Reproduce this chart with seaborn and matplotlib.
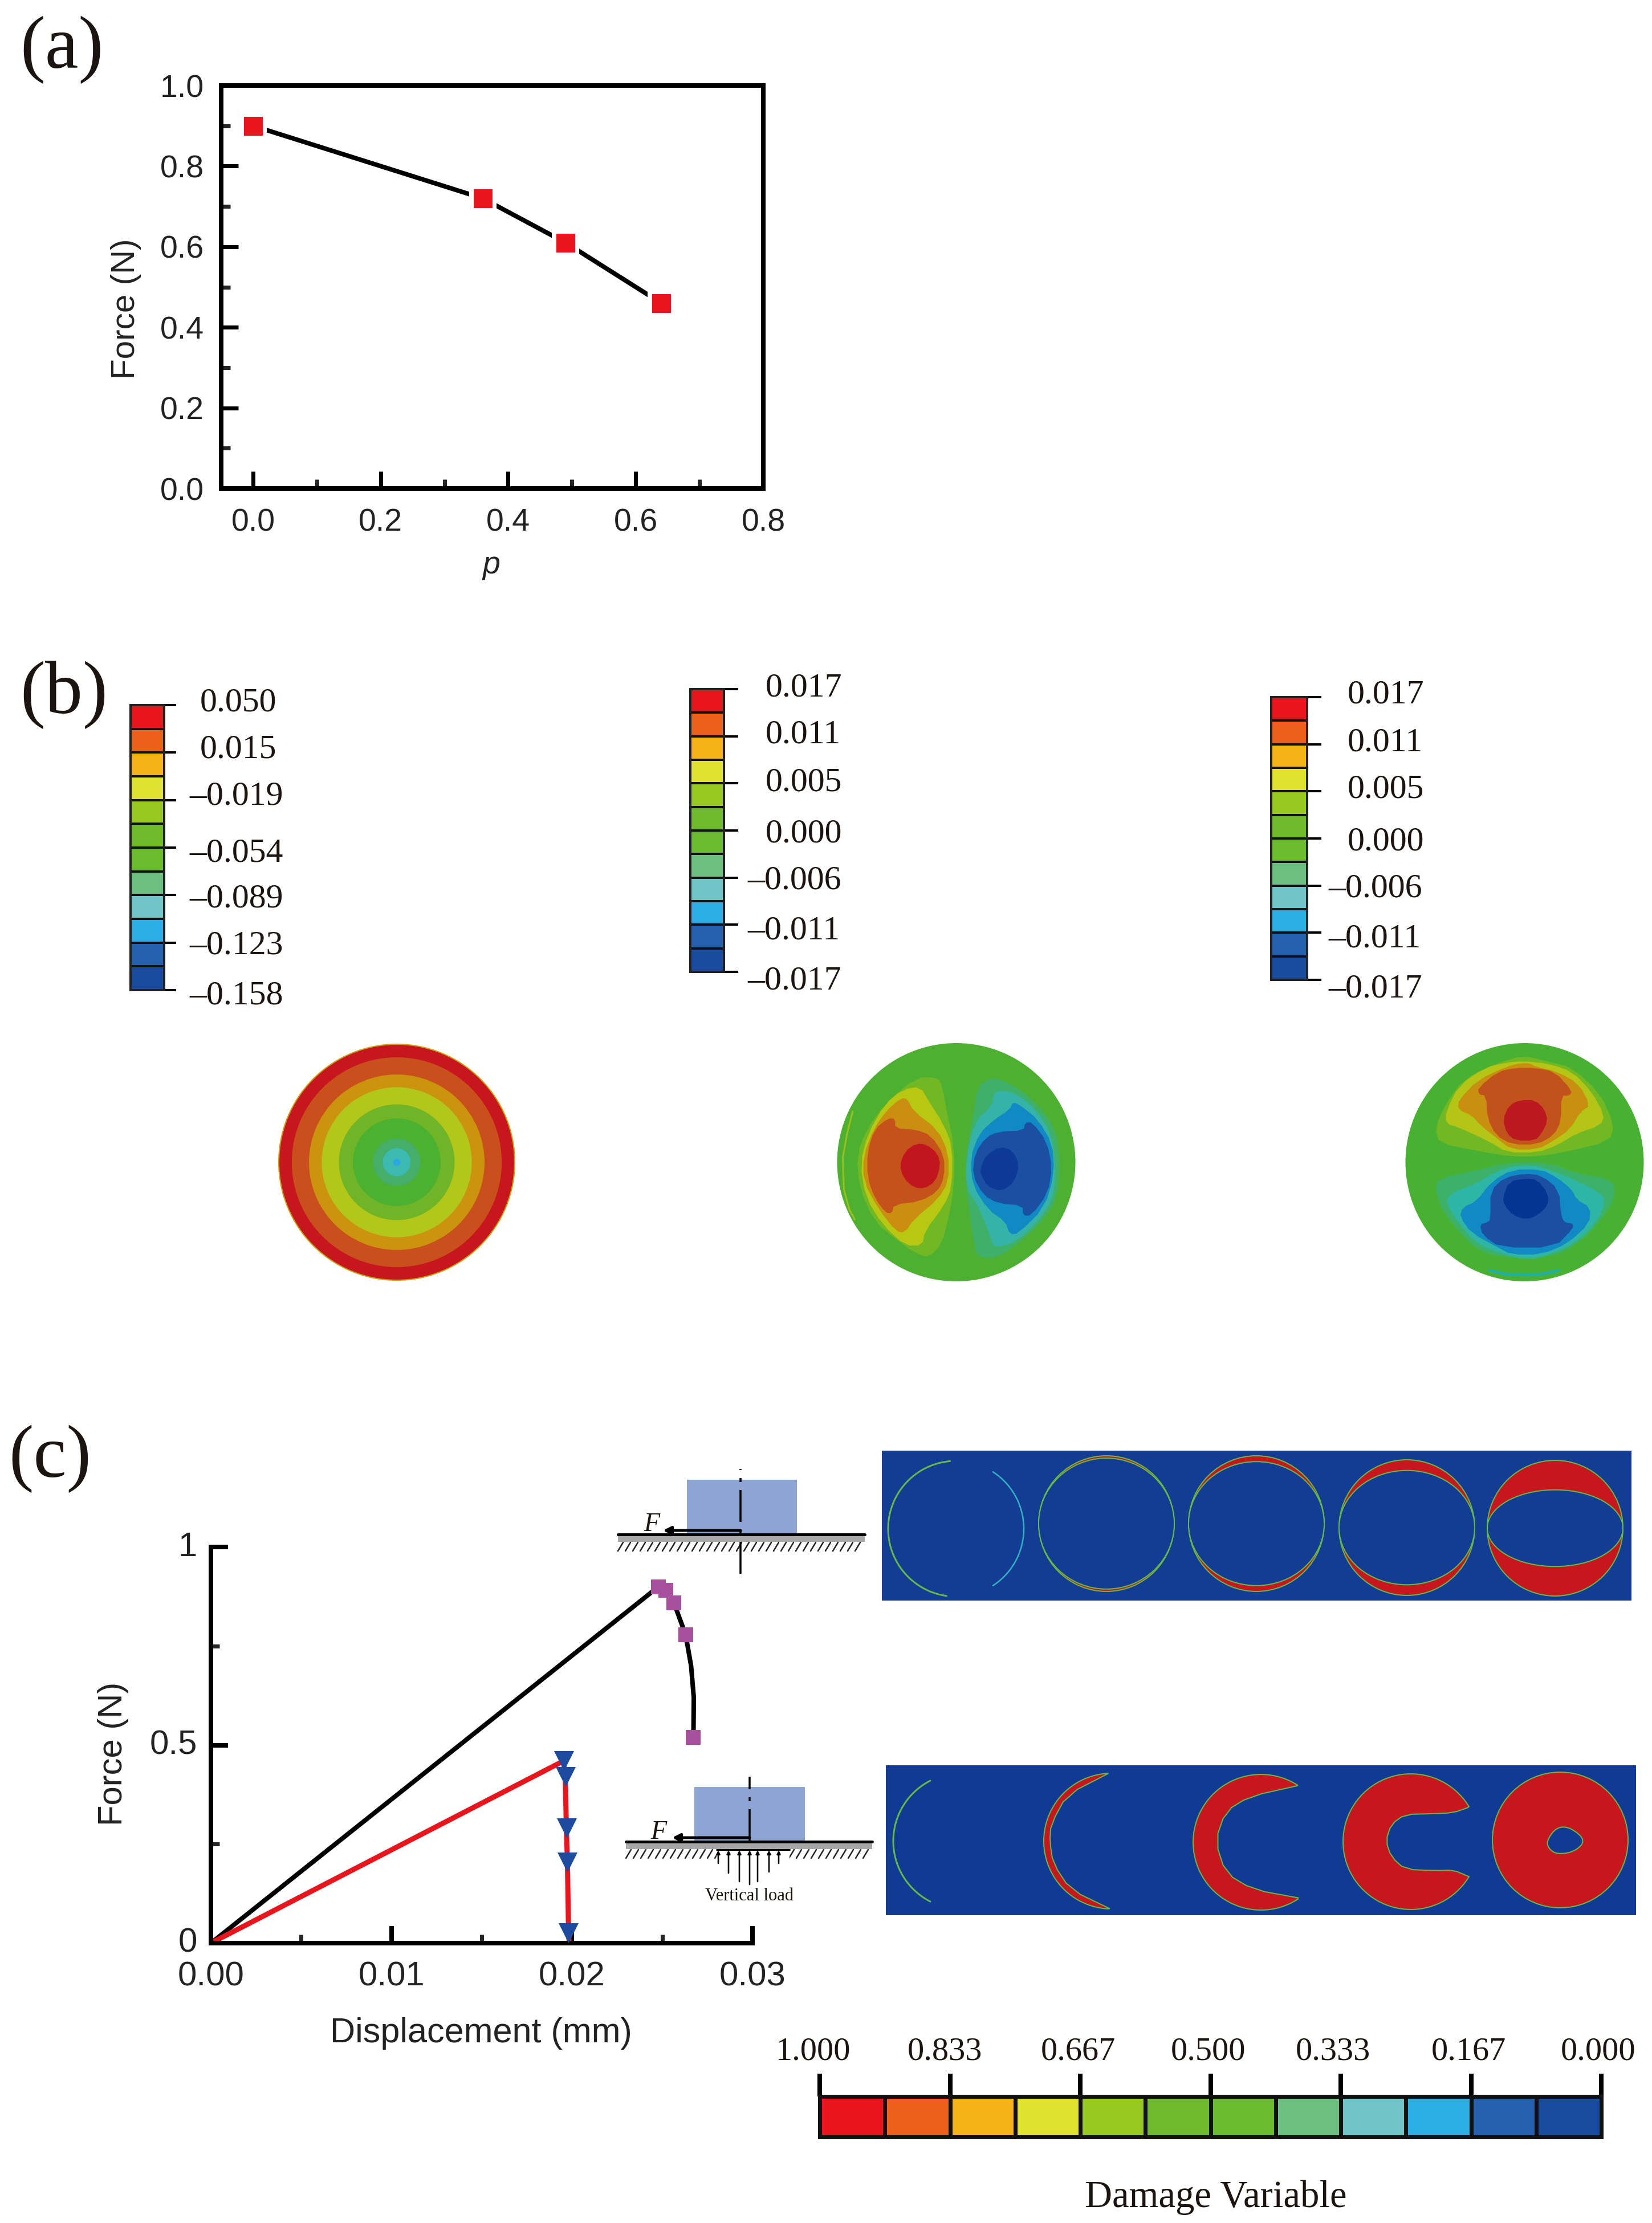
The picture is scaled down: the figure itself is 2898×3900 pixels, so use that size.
import numpy as np
import seaborn as sns
import matplotlib.pyplot as plt
from matplotlib.colors import ListedColormap
from matplotlib.patches import Circle, Ellipse, Polygon, Rectangle
from matplotlib.transforms import ScaledTranslation

W, H = 2898, 3900
PT = 0.72  # one picture pixel in points at dpi 100

# panel (a)
p_values = [0.0, 0.36, 0.49, 0.64]
force_a = [0.90, 0.72, 0.61, 0.46]

# panel (c)
disp_black = [0.0, 0.0248, 0.0252, 0.02565, 0.0263, 0.0266, 0.02675, 0.02673]
force_black = [0.0, 0.90, 0.89, 0.859, 0.778, 0.70, 0.62, 0.52]
disp_black_marks = [0.0248, 0.0252, 0.02565, 0.0263, 0.02673]
force_black_marks = [0.90, 0.89, 0.859, 0.778, 0.52]
disp_red = [0.0, 0.01954, 0.01963, 0.01969, 0.01975, 0.01981, 0.01985]
force_red = [0.0, 0.46, 0.42, 0.29, 0.204, 0.03, 0.0]
disp_red_marks = [0.01954, 0.01963, 0.01969, 0.01975, 0.01981]
force_red_marks = [0.46, 0.42, 0.29, 0.204, 0.026]

# colour scales
scale_colors = ['#E8161C', '#EE5F1A', '#F6B315', '#DFE32F', '#98C91F', '#6FBB2B',
                '#6ABB2E', '#6DBF7F', '#6EC4C6', '#2BAEE4', '#2460AC', '#184A9E']
scale_levels = list(range(12))
labels_b1 = ['0.050', '0.015', '–0.019', '–0.054', '–0.089', '–0.123', '–0.158']
labels_b2 = ['0.017', '0.011', '0.005', '0.000', '–0.006', '–0.011', '–0.017']
labels_damage = ['1.000', '0.833', '0.667', '0.500', '0.333', '0.167', '0.000']

# disc 1: ring radii (fraction of the disc radius) and their colours
ring_radii = [1.0, 0.99, 0.885, 0.74, 0.633, 0.488, 0.37, 0.20, 0.118, 0.03]
ring_colors = ['#C9A010', '#C8161F', '#C9501C', '#CC930F', '#B2C71A', '#70B527',
               '#4CB030', '#45AE68', '#3CB9B0', '#2BA8E0']

d2_layers = [
    ('#72B824', [(640, 400), (660, 440), (680, 560), (715, 740), (715, 950), (690, 1100), (660, 1230), (600, 1300), (540, 1280), (450, 1210), (350, 1120), (280, 950), (270, 780), (320, 650), (400, 530), (540, 400)]),
    ('#B8C712', [(560, 445), (600, 520), (670, 640), (708, 750), (705, 950), (670, 1040), (580, 1170), (570, 1240), (490, 1240), (390, 1140), (310, 1000), (285, 830), (320, 680), (400, 530), (480, 460)]),
    ('#CA8F10', [(500, 505), (530, 570), (640, 660), (690, 780), (690, 920), (640, 1010), (530, 1110), (490, 1175), (450, 1170), (370, 1060), (300, 920), (300, 790), (350, 650), (410, 560), (470, 505)]),
    ('#C5521B', [(445, 605), (445, 655), (540, 660), (610, 690), (670, 790), (670, 900), (640, 970), (560, 1020), (440, 1035), (430, 1080), (400, 1075), (350, 1000), (318, 900), (318, 770), (350, 660), (410, 605)]),
    ('#C2161F', [(465, 840), (490, 770), (540, 730), (590, 735), (640, 780), (653, 840), (630, 920), (580, 955), (530, 950), (485, 905)]),
    ('#3FB06A', [(890, 400), (950, 420), (1030, 470), (1110, 550), (1180, 660), (1200, 800), (1190, 1000), (1120, 1120), (1020, 1220), (920, 1300), (830, 1300), (810, 1260), (790, 1100), (770, 950), (770, 800), (800, 600), (825, 440)]),
    ('#35B3A8', [(920, 462), (1000, 480), (1090, 560), (1160, 680), (1180, 840), (1170, 1010), (1090, 1130), (1000, 1220), (900, 1255), (880, 1190), (830, 1050), (770, 950), (770, 800), (810, 620), (890, 540), (895, 490)]),
    ('#1189C4', [(985, 522), (1020, 540), (1100, 610), (1165, 730), (1175, 880), (1130, 1050), (1010, 1180), (970, 1185), (950, 1120), (870, 1060), (800, 940), (790, 800), (830, 680), (900, 610), (970, 560)]),
    ('#1A4FA2', [(1040, 625), (1075, 625), (1140, 720), (1165, 850), (1145, 980), (1070, 1090), (1030, 1090), (1030, 1040), (920, 1030), (850, 990), (800, 890), (810, 780), (860, 700), (920, 670), (1035, 665)]),
    ('#0C3A96', [(835, 858), (860, 790), (925, 745), (985, 765), (1015, 840), (990, 925), (930, 970), (870, 945), (840, 890)]),
]

# disc 3 contours
d3_layers = [
    ('#72B824', [(975, 290), (1090, 320), (1200, 350), (1330, 480), (1395, 640), (1370, 720), (1180, 770), (1040, 795), (920, 795), (780, 770), (590, 730), (570, 650), (620, 530), (700, 410), (850, 330)]),
    ('#B5C515', [(975, 318), (1090, 330), (1200, 370), (1290, 470), (1350, 590), (1330, 640), (1220, 680), (1130, 740), (1040, 775), (900, 775), (820, 720), (680, 650), (620, 630), (620, 570), (680, 440), (800, 350), (900, 325)]),
    ('#C98F10', [(965, 328), (1010, 330), (1030, 345), (1130, 370), (1230, 430), (1285, 540), (1240, 570), (1190, 660), (1110, 720), (1040, 760), (920, 760), (850, 700), (780, 640), (740, 590), (675, 560), (680, 510), (770, 410), (900, 345)]),
    ('#C2521B', [(940, 352), (1030, 352), (1120, 370), (1200, 465), (1190, 490), (1150, 490), (1150, 620), (1115, 690), (1040, 735), (925, 735), (850, 690), (810, 600), (805, 490), (770, 485), (770, 450), (860, 370)]),
    ('#BD1720', [(882, 610), (910, 540), (960, 513), (1030, 513), (1075, 560), (1088, 620), (1060, 680), (1030, 715), (940, 715), (900, 680)]),
    ('#3DB168', [(905, 825), (1090, 825), (1220, 880), (1390, 910), (1400, 1000), (1330, 1120), (1230, 1230), (1110, 1300), (870, 1300), (760, 1260), (680, 1170), (600, 1060), (572, 960), (585, 905), (760, 865)]),
    ('#2EB5A6', [(940, 840), (1030, 840), (1090, 860), (1190, 900), (1320, 970), (1358, 1015), (1310, 1130), (1210, 1230), (1110, 1280), (1000, 1315), (870, 1280), (760, 1230), (680, 1130), (620, 1030), (640, 980), (760, 930), (850, 870)]),
    ('#1189C4', [(925, 860), (1060, 860), (1130, 900), (1200, 960), (1220, 1010), (1285, 1050), (1280, 1130), (1180, 1230), (1060, 1285), (920, 1285), (860, 1250), (740, 1180), (685, 1100), (695, 1050), (760, 1020), (830, 920)]),
    ('#1A4FA2', [(985, 880), (1060, 890), (1140, 960), (1150, 1090), (1165, 1125), (1205, 1130), (1205, 1155), (1120, 1250), (870, 1250), (790, 1190), (775, 1135), (810, 1125), (825, 1110), (825, 965), (890, 900)]),
    ('#033593', [(882, 1000), (910, 920), (985, 905), (1040, 910), (1090, 980), (1090, 1040), (1040, 1090), (990, 1110), (930, 1090), (890, 1040)]),
]

# damage maps, upper row: inner blue ellipse height as a share of the disc
top_disc_x = [1677, 1941, 2204, 2468, 2728]
top_disc_y = [2682, 2673, 2673, 2680, 2681]
top_inner_ratio = [0.965, 0.914, 0.843, 0.565]

# damage maps, lower row: red crescents (arc limits in degrees, inner edge from a crop)
low_disc_x = [1686, 1950, 2212, 2475, 2737]
low_disc_y = [3230, 3230, 3232, 3231, 3228]
low_arc_limits = [(93, 267), (57, 303), (31, 329)]
low_inner_edges = [
    [(782, 1478), (725, 1420), (700, 1340), (695, 1271), (697, 1220), (720, 1130), (780, 1065)],
    [(1055, 1445), (990, 1420), (950, 1370), (935, 1271), (950, 1180), (985, 1135), (1053, 1103)],
    [(1300, 1378), (1280, 1360), (1255, 1362), (1210, 1358), (1190, 1320), (1182, 1271), (1190, 1220), (1210, 1190), (1250, 1188), (1280, 1185), (1300, 1170)],
]
low_hole = [(1415, 1270), (1430, 1228), (1450, 1230), (1472, 1270), (1455, 1305), (1430, 1312), (1418, 1295)]

sns.set_theme(style='ticks')
plt.rcParams['font.family'] = ['Liberation Sans', 'DejaVu Sans']
scale_cmap = ListedColormap(scale_colors)

fig = plt.figure(figsize=(W / 100, H / 100), dpi=100, facecolor='white')


def axes_px(x0, y0, x1, y1):
    return fig.add_axes([x0 / W, 1 - y1 / H, (x1 - x0) / W, (y1 - y0) / H], facecolor='none', zorder=3)


def from_crop(pts, x0, y0, sx, sy):
    pts = np.array(pts, dtype=float)
    return np.column_stack([x0 + pts[:, 0] / sx, y0 + pts[:, 1] / sy])


def smooth(pts, closed=True, passes=2):
    # corner cutting, keeps hand read outlines from looking like polygons
    for _ in range(passes):
        nxt = np.roll(pts, -1, axis=0)
        a = 0.75 * pts + 0.25 * nxt
        b = 0.25 * pts + 0.75 * nxt
        new = np.empty((len(pts) * 2, 2))
        new[0::2], new[1::2] = a, b
        if not closed:
            new = np.vstack([pts[0], new[:-2], pts[-1]])
        pts = new
    return pts


# everything that is not a plot axis goes on a page sized axes in pixel units
page = fig.add_axes([0, 0, 1, 1], zorder=1)
page.set_xlim(0, W)
page.set_ylim(H, 0)
page.axis('off')


def serif(x, y, s, size, **kw):
    page.text(x, y, s, fontsize=size, family=['Liberation Serif', 'DejaVu Serif'], color='#1c1410', **kw)


serif(35, 119, '(a)', 95)
serif(35, 1251, '(b)', 95)
serif(15, 2591, '(c)', 94)

# ---- panel (a)
ax = axes_px(388, 150, 1339, 857)
sns.lineplot(x=p_values, y=force_a, color='black', lw=8 * PT, sort=False, estimator=None, ax=ax)
sns.scatterplot(x=p_values, y=force_a, marker='s', s=(48 * PT) ** 2, color='white', linewidth=0, ax=ax, zorder=4, clip_on=False)
sns.scatterplot(x=p_values, y=force_a, marker='s', s=(33 * PT) ** 2, color='#E8161C', linewidth=0, ax=ax, zorder=5, clip_on=False)
ax.set_xlim(-0.05, 0.8)
ax.set_ylim(0, 1)
ax.set_xticks([0, 0.2, 0.4, 0.6, 0.8])
ax.set_xticks([0.1, 0.3, 0.5, 0.7], minor=True)
ax.set_yticks([0, 0.2, 0.4, 0.6, 0.8, 1.0])
ax.set_yticks([0.1, 0.3, 0.5, 0.7, 0.9], minor=True)
ax.tick_params(which='major', direction='in', length=30 * PT, width=7 * PT, labelsize=40, colors='black', labelcolor='#222222')
ax.tick_params(axis='y', which='major', pad=30 * PT)
ax.tick_params(axis='x', which='major', pad=34 * PT)
ax.tick_params(which='minor', direction='in', length=16 * PT, width=7 * PT)
for s in ax.spines.values():
    s.set_linewidth(8 * PT)
    s.set_color('black')
page.text(221, 542, 'Force (N)', rotation=90, ha='center', va='center', fontsize=42, color='#222222')
page.text(862, 992, 'p', style='italic', ha='center', va='center', fontsize=40, color='#222222')


# ---- panel (b) colour bars
def vertical_bar(x0, y0, x1, y1, tick_len, labels, pos_left, neg_left, label_y):
    cb = axes_px(x0, y0, x1, y1)
    grid = np.array(scale_levels).reshape(-1, 1)
    sns.heatmap(grid, cmap=scale_cmap, vmin=-0.5, vmax=11.5, cbar=False, linewidths=4 * PT, linecolor='#111111',
                xticklabels=False, yticklabels=False, ax=cb)
    cb.set_yticks(range(0, 13, 2))
    cb.set_yticklabels([])
    cb.yaxis.tick_right()
    cb.tick_params(axis='y', which='major', right=True, left=False, direction='out', length=tick_len * PT, width=4 * PT,
                   labelright=False, color='black')
    for s in cb.spines.values():
        s.set_visible(True)
        s.set_linewidth(4 * PT)
        s.set_color('#222222')
    for lab, ly in zip(labels, label_y):
        serif(neg_left if lab.startswith('–') else pos_left, ly + 4, lab, 43, va='center')


vertical_bar(229, 1237, 288, 1737, 21, labels_b1, 351, 332, [1229, 1311, 1394, 1493, 1574, 1656, 1744])
vertical_bar(1211, 1209, 1270, 1705, 25, labels_b2, 1343, 1311, [1203, 1286, 1369, 1460, 1541, 1630, 1718])
vertical_bar(2230, 1223, 2293, 1719, 25, labels_b2, 2364, 2330, [1216, 1299, 1382, 1473, 1555, 1644, 1731])

# ---- panel (b) discs
for rad, col in zip(ring_radii, ring_colors):
    page.add_patch(Circle((696, 2039), 208 * rad, fc=col, ec='none'))

page.add_patch(Circle((1677.5, 2039), 209, fc='#4DB030', ec='none'))
page.plot(*from_crop([(250, 570), (225, 680), (205, 800), (210, 960), (235, 1060), (260, 1110)], 1400, 1750, 2.613, 2.85).T,
          color='#9CBF1E', lw=3 * PT)
for col, pts in d2_layers:
    page.add_patch(Polygon(smooth(from_crop(pts, 1400, 1750, 2.613, 2.85), passes=1), fc=col, ec='none'))

page.add_patch(Circle((2674.5, 2039), 209, fc='#48B132', ec='none'))
page.plot(*from_crop([(820, 1365), (900, 1385), (1050, 1385), (1140, 1365)], 2300, 1750, 2.622, 2.85).T, color='#22AFA8', lw=5 * PT)
for col, pts in d3_layers:
    page.add_patch(Polygon(smooth(from_crop(pts, 2300, 1750, 2.622, 2.85), passes=1), fc=col, ec='none'))

# ---- panel (c)
ax = axes_px(370, 2714, 1320, 3409)
sns.lineplot(x=disp_black, y=force_black, color='black', lw=8 * PT, sort=False, estimator=None, ax=ax)
sns.lineplot(x=disp_red, y=force_red, color='#E8161C', lw=9 * PT, sort=False, estimator=None, ax=ax)
sns.scatterplot(x=disp_black_marks, y=force_black_marks, marker='s', s=(26 * PT) ** 2, color='#A8509E', linewidth=0, ax=ax, zorder=5)
sns.scatterplot(x=disp_red_marks, y=force_red_marks, marker='v', s=(35 * PT) ** 2, color='#1C4BA0', linewidth=0, ax=ax, zorder=5)
ax.set_xlim(0, 0.03)
ax.set_ylim(0, 1)
ax.set_xticks([0, 0.01, 0.02, 0.03])
ax.set_xticklabels(['0.00', '0.01', '0.02', '0.03'])
ax.set_xticks([0.005, 0.015, 0.025], minor=True)
ax.set_yticks([0, 0.5, 1])
ax.set_yticklabels(['0', '0.5', '1'])
ax.set_yticks([0.25, 0.75], minor=True)
ax.tick_params(which='major', direction='in', length=30 * PT, width=8 * PT, labelsize=43, colors='black', labelcolor='#222222')
ax.tick_params(axis='y', which='major', pad=24 * PT)
ax.tick_params(axis='x', which='major', pad=32 * PT)
ax.tick_params(which='minor', direction='in', length=15 * PT, width=7 * PT)
for lab in ax.get_yticklabels():
    lab.set_transform(lab.get_transform() + ScaledTranslation(0, 0.06, fig.dpi_scale_trans))
ax.spines['top'].set_visible(False)
ax.spines['right'].set_visible(False)
for side in ('left', 'bottom'):
    ax.spines[side].set_linewidth(8 * PT)
    ax.spines[side].set_color('black')
page.text(199, 3077, 'Force (N)', rotation=90, ha='center', va='center', fontsize=43, color='#222222')
page.text(844, 3568, 'Displacement (mm)', ha='center', va='center', fontsize=44, color='#222222')


# ---- load sketches
def sketch(block, axis_y, ground_y, ground_x, axis_x, arrow_tip, f_xy):
    page.add_patch(Rectangle((block[0], block[1]), block[2] - block[0], block[3] - block[1], fc='#8EA5D4', ec='none'))
    page.add_patch(Rectangle((ground_x[0], ground_y + 1), ground_x[1] - ground_x[0], 12, fc='#A8A8A8', ec='none'))
    for hx in np.arange(ground_x[0], ground_x[1] - 8, 13):
        page.plot([hx, hx + 9], [ground_y + 29, ground_y + 14], color='#222222', lw=2.5 * PT)
    page.plot(ground_x, [ground_y, ground_y], color='black', lw=5 * PT)
    page.plot([axis_x, axis_x], axis_y, color='black', lw=3.5 * PT, ls=(0, (16, 4, 2, 4)))
    page.annotate('', xy=(arrow_tip, ground_y - 7), xytext=(axis_x, ground_y - 7),
                  arrowprops=dict(arrowstyle='-|>', color='black', lw=5 * PT, mutation_scale=20, shrinkA=0, shrinkB=0))
    serif(f_xy[0], f_xy[1], 'F', 33, style='italic', ha='center', va='center')


# axis drawn upward so the long dash sits at the lower end like the picture
sketch((1205, 2596, 1398, 2691), (2761, 2577), 2692, (1084, 1517), 1299, 1163, (1143, 2675))
sketch((1218, 3135, 1412, 3230), (3230, 3117), 3231, (1098, 1530), 1315, 1179, (1155, 3215))
page.add_patch(Rectangle((1257, 3245), 128, 16, fc='white', ec='none', zorder=2.5))
page.plot([1257, 1385], [3245, 3245], color='black', lw=3 * PT, zorder=3)
load_x = [1260, 1278, 1297, 1315, 1329, 1349, 1366]
load_end = [3269, 3286, 3301, 3306, 3301, 3284, 3269]
for lx, ly in zip(load_x, load_end):
    page.annotate('', xy=(lx, 3246), xytext=(lx, ly),
                  arrowprops=dict(arrowstyle='-|>', color='black', lw=2.6 * PT, mutation_scale=9, shrinkA=0, shrinkB=0))
serif(1315, 3327, 'Vertical load', 22, ha='center', va='center')

# ---- damage maps
EDGE = '#63BB45'
RED = '#C8161F'
page.add_patch(Rectangle((1547, 2545), 1315, 263, fc='#143C94', ec='none'))
page.add_patch(Rectangle((1554, 3097), 1316, 263, fc='#103A94', ec='none'))
R = 119


def arc(cx, cy, a0, a1):
    t = np.radians(np.linspace(a0, a1, 80))
    return np.column_stack([cx + R * np.cos(t), cy - R * np.sin(t)])


page.plot(*arc(top_disc_x[0], top_disc_y[0], 95, 262).T, color=EDGE, lw=3 * PT)
page.plot(*arc(top_disc_x[0], top_disc_y[0], -57, 57).T, color='#2FB5C0', lw=2.5 * PT)
for cx, cy, ratio in zip(top_disc_x[1:], top_disc_y[1:], top_inner_ratio):
    page.add_patch(Circle((cx, cy), R, fc=RED, ec=EDGE, lw=2 * PT))
    page.add_patch(Ellipse((cx, cy), 2 * R, 2 * R * ratio, fc='#143C94', ec=EDGE, lw=2 * PT))

page.plot(*arc(low_disc_x[0], low_disc_y[0], 117, 243).T, color=EDGE, lw=3 * PT)
for cx, cy, lim, edge in zip(low_disc_x[1:4], low_disc_y[1:4], low_arc_limits, low_inner_edges):
    inner = smooth(from_crop(edge, 1000, 2500, 0.826, 1.742), closed=False, passes=1)
    page.add_patch(Polygon(np.vstack([arc(cx, cy, *lim), inner]), fc=RED, ec=EDGE, lw=2 * PT))
page.add_patch(Circle((low_disc_x[4], low_disc_y[4]), R, fc=RED, ec=EDGE, lw=2 * PT))
page.add_patch(Polygon(smooth(from_crop(low_hole, 1000, 2500, 0.826, 1.742)), fc='#103A94', ec=EDGE, lw=2 * PT))

# ---- damage scale
cb = axes_px(1438, 3678, 2809, 3749)
sns.heatmap(np.array(scale_levels).reshape(1, -1), cmap=scale_cmap, vmin=-0.5, vmax=11.5, cbar=False, linewidths=7 * PT,
            linecolor='#111111', xticklabels=False, yticklabels=False, ax=cb)
cb.set_xticks(range(0, 13, 2))
cb.set_xticklabels([])
cb.xaxis.tick_top()
cb.tick_params(axis='x', which='major', top=True, bottom=False, direction='out', length=40 * PT, width=8 * PT, labeltop=False, color='black')
for s in cb.spines.values():
    s.set_visible(True)
    s.set_linewidth(7 * PT)
    s.set_color('#111111')
for lab, lx in zip(labels_damage, [1427, 1657, 1891, 2119, 2338, 2576, 2804]):
    serif(lx, 3600, lab, 42, ha='center', va='center')
serif(2133, 3872, 'Damage Variable', 48, ha='center')

fig.savefig('out.png', dpi=100, facecolor='white')
plt.close(fig)
